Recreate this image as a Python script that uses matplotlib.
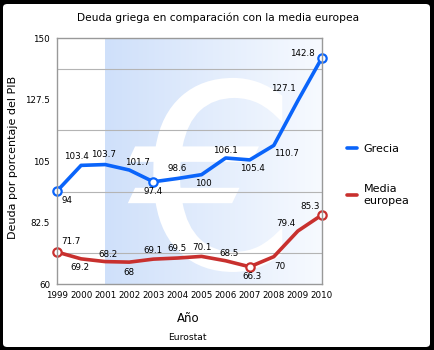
import matplotlib
matplotlib.use("Agg")
import matplotlib.pyplot as plt
import numpy as np
from matplotlib.colors import LinearSegmentedColormap
from matplotlib.patches import FancyBboxPatch, PathPatch
from matplotlib.textpath import TextPath
from matplotlib.font_manager import FontProperties
from matplotlib.transforms import Affine2D

years = list(range(1999, 2011))
grecia = [94, 103.4, 103.7, 101.7, 97.4, 98.6, 100, 106.1, 105.4, 110.7, 127.1, 142.8]
media = [71.7, 69.2, 68.2, 68, 69.1, 69.5, 70.1, 68.5, 66.3, 70, 79.4, 85.3]
y_ticks = [60, 82.5, 105, 127.5, 150]

# label offsets in pixels (dx, dy), y up
off_gr = [(10, -9), (-5, 9), (-2, 10), (8, 8), (0, -10), (0, 10),
          (2, -9), (0, 7), (3, -9), (13, -8), (-15, 12), (-20, 4)]
off_eu = [(14, 11), (-1, -9), (3, 7), (0, -10), (0, 9), (0, 10),
          (0, 9), (3, 7), (2, -10), (6, -10), (-12, 7), (-12, 8)]
mark_gr = [0, 4, 11]
mark_eu = [0, 8, 11]

blue = "#0a64fa"
red = "#c8302e"

fig = plt.figure(figsize=(4.34, 3.5), dpi=100)
fig.patch.set_facecolor("black")
fig.patches.append(FancyBboxPatch((3 / 434, 3 / 350), 427 / 434, 343 / 350,
                                  boxstyle="round,pad=0,rounding_size=0.01",
                                  transform=fig.transFigure, facecolor="white",
                                  edgecolor="none", zorder=-10))

ax = fig.add_axes([57 / 434, 66 / 350, 265 / 434, 246 / 350])
ax.set_facecolor("none")
ax.set_xlim(1999, 2010)
ax.set_ylim(60, 150)

# gradient background
cmap = LinearSegmentedColormap.from_list("bg", ["#cfe0fa", "#f7faff"])
grad = np.linspace(0, 1, 256).reshape(1, -1)
ax.imshow(grad, cmap=cmap, extent=[2001, 2010, 60, 150], aspect="auto", zorder=0)

# big euro sign behind the lines
fp = FontProperties(family="DejaVu Sans")
tp = TextPath((0, 0), "\u20ac", size=1, prop=fp)
ext = tp.get_extents()
x0, x1, y0, y1 = 2001.94, 2008.35, 64.4, 135.4
tr = (Affine2D().translate(-ext.x0, -ext.y0)
      .scale((x1 - x0) / ext.width, (y1 - y0) / ext.height)
      .translate(x0, y0))
euro = PathPatch(tr.transform_path(tp), facecolor="white", edgecolor="none", zorder=1)
ax.add_patch(euro)
euro.set_clip_path(ax.patch)

# grid sits between the tick labels
ax.set_yticks(y_ticks)
ax.set_yticks([71.25, 93.75, 116.25, 138.75], minor=True)
ax.grid(True, which="minor", axis="y", color="#b4b4b4", linewidth=0.8, zorder=2)
ax.set_xticks(years)
ax.tick_params(axis="both", which="both", length=0, labelsize=6.3, pad=5)
ax.set_yticklabels(["60", "82.5", "105", "127.5", "150"])
for s in ax.spines.values():
    s.set_color("#999999")
    s.set_linewidth(1)
    s.set_zorder(5)

ax.plot(years, grecia, color=blue, lw=2.6, solid_joinstyle="round",
        solid_capstyle="round", label="Grecia", zorder=3, clip_on=False)
ax.plot(years, media, color=red, lw=2.6, solid_joinstyle="round",
        solid_capstyle="round", label="Media\neuropea", zorder=3, clip_on=False)
ax.plot([years[i] for i in mark_gr], [grecia[i] for i in mark_gr], "o", ms=6,
        mfc="white", mec=blue, mew=1.6, zorder=4, clip_on=False)
ax.plot([years[i] for i in mark_eu], [media[i] for i in mark_eu], "o", ms=6,
        mfc="white", mec=red, mew=1.6, zorder=4, clip_on=False)

for x, v, o in zip(years, grecia, off_gr):
    ax.annotate(f"{v:g}", (x, v), xytext=o, textcoords="offset pixels",
                ha="center", va="center", fontsize=6.3, zorder=6, annotation_clip=False)
for x, v, o in zip(years, media, off_eu):
    ax.annotate(f"{v:g}", (x, v), xytext=o, textcoords="offset pixels",
                ha="center", va="center", fontsize=6.3, zorder=6, annotation_clip=False)

leg = ax.legend(loc="upper left", bbox_to_anchor=(347 / 434, 1 - 144 / 350),
                bbox_transform=fig.transFigure, frameon=False, fontsize=8,
                handlelength=0.9, handletextpad=0.6, labelspacing=2.7,
                borderaxespad=0, borderpad=0)

fig.text(218 / 434, 1 - 18 / 350, "Deuda griega en comparación con la media europea",
         ha="center", va="center", fontsize=7.7)
fig.text(13 / 434, 1 - 157 / 350, "Deuda por porcentaje del PIB", rotation=90,
         ha="center", va="center", fontsize=8)
fig.text(188 / 434, 1 - 318 / 350, "Año", ha="center", va="center", fontsize=8.5)
fig.text(187 / 434, 1 - 338 / 350, "Eurostat", ha="center", va="center", fontsize=6.6)

fig.savefig("out.png", dpi=100, facecolor=fig.get_facecolor())
